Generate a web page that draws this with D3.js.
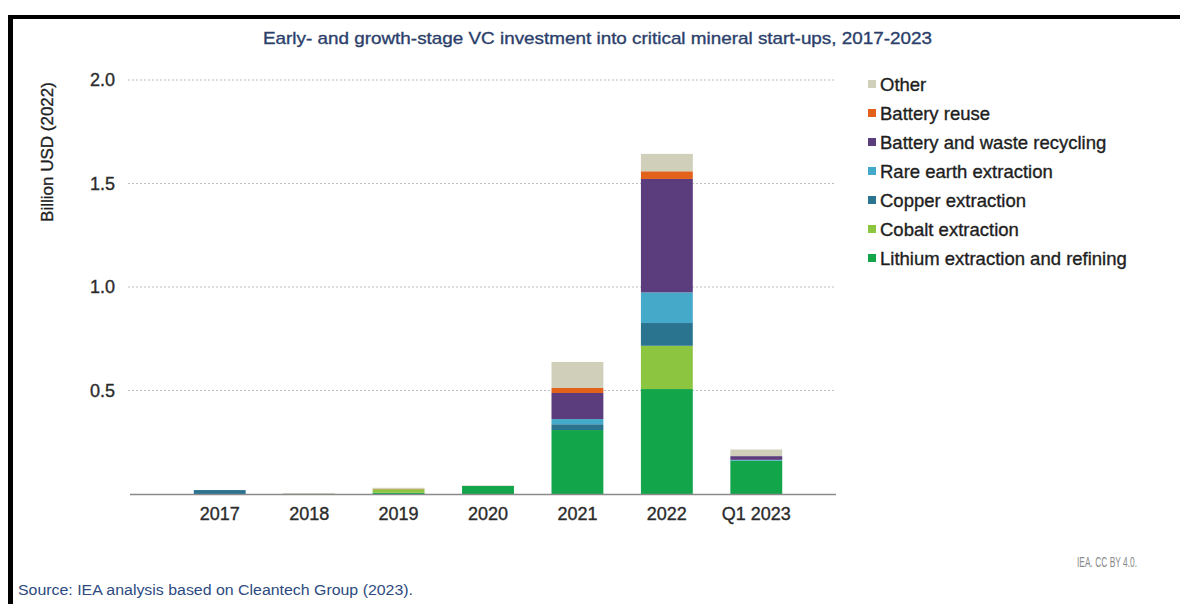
<!DOCTYPE html>
<html>
<head>
<meta charset="utf-8">
<script src="https://cdn.jsdelivr.net/npm/d3@7"></script>
<style>
    body { margin: 0; background: #fff; font-family: "Liberation Sans", Arial, sans-serif; }
    svg { display: block; }
    .heavy { stroke-width: 0.35px; }
</style>
</head>
<body>
<svg width="1180" height="604"></svg>
<script>
// categories and series (billion USD 2022)
var years = ["2017", "2018", "2019", "2020", "2021", "2022", "Q1 2023"];
var seriesNames = ["Lithium extraction and refining", "Cobalt extraction", "Copper extraction",
    "Rare earth extraction", "Battery and waste recycling", "Battery reuse", "Other"];
var lithium   = [0,     0,     0.006, 0.039, 0.309, 0.507, 0.161];
var cobalt    = [0,     0,     0.017, 0,     0,     0.209, 0];
var copper    = [0.019, 0,     0,     0,     0.028, 0.110, 0];
var rareEarth = [0,     0,     0,     0,     0.025, 0.148, 0.004];
var recycling = [0,     0,     0,     0,     0.126, 0.548, 0.018];
var reuse     = [0,     0,     0.002, 0,     0.024, 0.037, 0];
var other     = [0,     0.004, 0.005, 0.002, 0.126, 0.084, 0.032];
var yTicks = [0.5, 1.0, 1.5, 2.0];

var colors = ["#13a54a", "#8cc540", "#2b7490", "#45a9c9", "#5b3c7d", "#e2621b", "#d0cfba"];

var svg = d3.select("svg");

// frame
svg.append("line").attr("x1", 8).attr("x2", 1180).attr("y1", 17).attr("y2", 17)
    .attr("stroke", "#000").attr("stroke-width", 4);
svg.append("line").attr("x1", 10.5).attr("x2", 10.5).attr("y1", 15).attr("y2", 604)
    .attr("stroke", "#000").attr("stroke-width", 5);

svg.append("text")
    .attr("class", "heavy")
    .attr("x", 263).attr("y", 44)
    .attr("fill", "#2c3f6b").attr("stroke", "#2c3f6b")
    .attr("textLength", 669).attr("lengthAdjust", "spacingAndGlyphs")
    .style("font-size", "17px")
    .text("Early- and growth-stage VC investment into critical mineral start-ups, 2017-2023");

var x = d3.scaleBand().domain(years).range([175, 801]).paddingInner(0.42).paddingOuter(0.21);
var y = d3.scaleLinear().domain([0, 2]).range([494, 80]);

var cols = [lithium, cobalt, copper, rareEarth, recycling, reuse, other];
var table = years.map(function (yr, i) {
    var row = { year: yr };
    seriesNames.forEach(function (s, j) { row[s] = cols[j][i]; });
    return row;
});
var stack = d3.stack().keys(seriesNames)(table);

// grid
svg.append("g")
    .selectAll("line")
    .data(yTicks)
    .enter().append("line")
    .attr("x1", 128).attr("x2", 836)
    .attr("y1", function (d) { return y(d); })
    .attr("y2", function (d) { return y(d); })
    .attr("stroke", "#bdbdbd")
    .attr("stroke-width", 1)
    .attr("stroke-dasharray", "2,2");

// y axis
var yAxis = svg.append("g")
    .attr("transform", "translate(118,0)")
    .call(d3.axisLeft(y).tickValues(yTicks).tickFormat(d3.format(".1f")).tickSize(0));
yAxis.select(".domain").remove();
yAxis.selectAll("text")
    .attr("class", "heavy")
    .attr("fill", "#2b2b2b").attr("stroke", "#2b2b2b")
    .style("font-size", "18px")
    .style("font-family", "Liberation Sans, Arial, sans-serif");

svg.append("text")
    .attr("class", "heavy")
    .attr("transform", "translate(53,152) rotate(-90)")
    .attr("text-anchor", "middle")
    .attr("fill", "#1e1e1e").attr("stroke", "#1e1e1e")
    .style("font-size", "17px")
    .text("Billion USD (2022)");

// bars
svg.append("g")
    .selectAll("g")
    .data(stack)
    .enter().append("g")
    .attr("fill", function (d, i) { return colors[i]; })
    .selectAll("rect")
    .data(function (d) { return d; })
    .enter().append("rect")
    .attr("x", function (d) { return x(d.data.year); })
    .attr("width", x.bandwidth())
    .attr("y", function (d) { return y(d[1]); })
    .attr("height", function (d) { return y(d[0]) - y(d[1]); });

// x axis
var xAxis = svg.append("g")
    .attr("transform", "translate(0,494)")
    .call(d3.axisBottom(x).tickSize(0).tickPadding(13));
xAxis.select(".domain").remove();
xAxis.selectAll("text")
    .attr("class", "heavy")
    .attr("fill", "#2b2b2b").attr("stroke", "#2b2b2b")
    .style("font-size", "18px")
    .style("font-family", "Liberation Sans, Arial, sans-serif");
svg.append("line").attr("x1", 130).attr("x2", 836).attr("y1", 494.5).attr("y2", 494.5)
    .attr("stroke", "#8a8a8a").attr("stroke-width", 1.5);

// legend, top entry first
var legendOrder = seriesNames.slice().reverse();
var legend = svg.append("g")
    .selectAll("g")
    .data(legendOrder)
    .enter().append("g")
    .attr("transform", function (d, i) { return "translate(868," + (84 + i * 29) + ")"; });
legend.append("rect")
    .attr("x", 0).attr("y", -4).attr("width", 8).attr("height", 8)
    .attr("fill", function (d) { return colors[seriesNames.indexOf(d)]; });
legend.append("text")
    .attr("class", "heavy")
    .attr("x", 12).attr("y", 6.5)
    .attr("fill", "#1e1e1e").attr("stroke", "#1e1e1e")
    .style("font-size", "18.5px")
    .text(function (d) { return d; });

svg.append("text")
    .attr("x", 1137).attr("y", 567)
    .attr("text-anchor", "end")
    .attr("fill", "#8a8a8a")
    .attr("textLength", 60).attr("lengthAdjust", "spacingAndGlyphs")
    .style("font-size", "14.5px")
    .text("IEA. CC BY 4.0.");

svg.append("text")
    .attr("x", 18).attr("y", 595)
    .attr("fill", "#2c4a80")
    .attr("textLength", 395).attr("lengthAdjust", "spacingAndGlyphs")
    .style("font-size", "14px")
    .text("Source: IEA analysis based on Cleantech Group (2023).");
</script>
</body>
</html>
